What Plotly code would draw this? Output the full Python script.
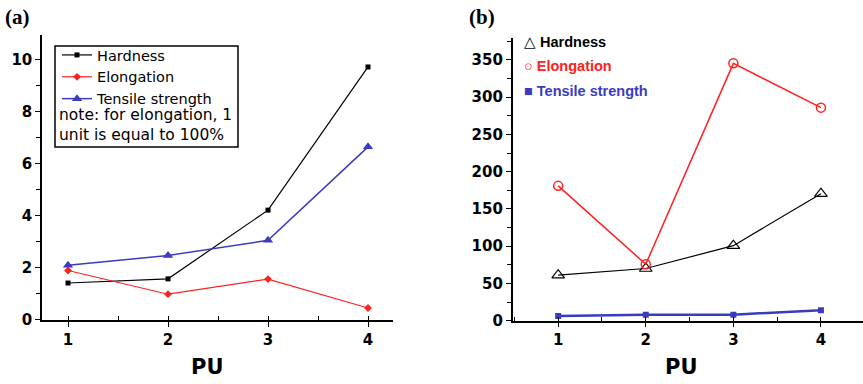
import plotly.graph_objects as go

pu = [1, 2, 3, 4]
pu_labels = ["1", "2", "3", "4"]
# Panel (a)
a_hardness = [1.42, 1.58, 4.22, 9.72]
a_elongation = [1.9, 0.99, 1.57, 0.46]
a_tensile = [2.1, 2.48, 3.06, 6.65]
a_yticks = [0, 2, 4, 6, 8, 10]
# Panel (b)
b_hardness = [61, 70, 100.7, 170.5]
b_elongation = [181, 75.7, 345.5, 286]
b_tensile = [6.3, 8, 8, 14]
b_yticks = [0, 50, 100, 150, 200, 250, 300, 350]

RED = "#ff2020"
BLUE = "#3b3bbf"
DJ = "DejaVu Sans, sans-serif"
AR = "Liberation Sans, Arial, sans-serif"

fig = go.Figure()

# Panel (a)
fig.add_trace(go.Scatter(x=pu, y=a_hardness, mode="lines+markers", name="Hardness",
                         line=dict(color="black", width=1.2),
                         marker=dict(symbol="square", size=5, color="black"),
                         xaxis="x", yaxis="y", legend="legend"))
fig.add_trace(go.Scatter(x=pu, y=a_elongation, mode="lines+markers", name="Elongation",
                         line=dict(color=RED, width=1.2),
                         marker=dict(symbol="diamond", size=6, color=RED),
                         xaxis="x", yaxis="y", legend="legend"))
fig.add_trace(go.Scatter(x=pu, y=a_tensile, mode="lines+markers", name="Tensile strength",
                         line=dict(color=BLUE, width=1.5),
                         marker=dict(symbol="triangle-up", size=9, color=BLUE),
                         xaxis="x", yaxis="y", legend="legend"))

# Panel (b)
fig.add_trace(go.Scatter(x=pu, y=b_hardness, mode="lines+markers", name="Hardness",
                         line=dict(color="black", width=1.2),
                         marker=dict(symbol="triangle-up-open", size=11, color="black",
                                     line=dict(width=1.2)),
                         xaxis="x2", yaxis="y2", showlegend=False))
fig.add_trace(go.Scatter(x=pu, y=b_elongation, mode="lines+markers", name="Elongation",
                         line=dict(color=RED, width=1.5),
                         marker=dict(symbol="circle-open", size=9, color=RED,
                                     line=dict(width=1.5)),
                         xaxis="x2", yaxis="y2", showlegend=False))
fig.add_trace(go.Scatter(x=pu, y=b_tensile, mode="lines+markers", name="Tensile strength",
                         line=dict(color=BLUE, width=2.5),
                         marker=dict(symbol="square", size=6, color=BLUE),
                         xaxis="x2", yaxis="y2", showlegend=False))

tickfont = dict(family=DJ, size=15, color="black", weight="bold")

def xax(domain, rng):
    return dict(domain=domain, range=rng, tickvals=pu, ticktext=pu_labels,
                showline=True, linecolor="black", linewidth=1.5, showgrid=False,
                zeroline=False, ticks="outside", ticklen=5, tickwidth=1.2, tickcolor="black",
                minor=dict(dtick=0.5, tick0=0.5, ticks="inside", ticklen=4, tickcolor="black",
                           tickwidth=1.2, showgrid=False),
                tickfont=tickfont, fixedrange=True)

def yax(domain, rng, ticks, minor):
    return dict(domain=domain, range=rng, tickvals=ticks,
                ticktext=["%g" % t for t in ticks],
                showline=True, linecolor="black", linewidth=1.5, showgrid=False,
                zeroline=False, ticks="outside", ticklen=5, tickwidth=1.2, tickcolor="black",
                minor=dict(dtick=minor, tick0=0, ticks="outside", ticklen=4, tickcolor="black",
                           tickwidth=1.2, showgrid=False),
                tickfont=tickfont, fixedrange=True)

xa = xax([0.0487, 0.4554], [0.74, 4.25]); xa["anchor"] = "y"
ya = yax([0.1667, 0.909], [0, 10.95], a_yticks, 1); ya["anchor"] = "x"
xb = xax([0.594, 1.0], [0.48, 4.48]); xb["anchor"] = "y2"
yb = yax([0.165, 0.901], [0, 379.5], b_yticks, 25); yb["anchor"] = "x2"

annotations = [
    dict(text="<b>(a)</b>", x=3, y=3, showarrow=False,
         xanchor="left", yanchor="top", font=dict(family="Liberation Serif, Times New Roman, serif", size=21, color="black")),
    dict(text="<b>(b)</b>", x=467, y=3, showarrow=False,
         xanchor="left", yanchor="top", font=dict(family="Liberation Serif, Times New Roman, serif", size=21, color="black")),
    dict(text="<b>PU</b>", x=207, y=367, showarrow=False, xanchor="center",
         font=dict(family=DJ, size=21, color="black")),
    dict(text="<b>PU</b>", x=681, y=367, showarrow=False, xanchor="center",
         font=dict(family=DJ, size=21, color="black")),
    dict(text="note: for elongation, 1<br>unit is equal to 100%", x=57, y=104, showarrow=False,
         xanchor="left", yanchor="top", align="left",
         font=dict(family=DJ, size=15.5, color="black")),
    dict(text="△ <b>Hardness</b>", x=522, y=42, showarrow=False, xanchor="left",
         font=dict(family=AR, size=14.5, color="black")),
    dict(text="○ <b>Elongation</b>", x=522, y=66, showarrow=False, xanchor="left",
         font=dict(family=AR, size=14.5, color=RED)),
    dict(text="■ <b>Tensile strength</b>", x=522, y=91, showarrow=False, xanchor="left",
         font=dict(family=AR, size=14.5, color=BLUE)),
]
W, H = 863, 384
for a in annotations:
    a["x"] = a["x"] / W
    a["y"] = 1 - a["y"] / H
    a["xref"] = "paper"; a["yref"] = "paper"
    a.setdefault("yanchor", "middle")

fig.update_layout(
    width=W, height=H, margin=dict(l=0, r=0, t=0, b=0, autoexpand=False),
    paper_bgcolor="white", plot_bgcolor="white",
    xaxis=xa, yaxis=ya, xaxis2=xb, yaxis2=yb,
    legend=dict(x=57 / W, y=1 - 39 / H, xanchor="left", yanchor="top",
                bgcolor="rgba(0,0,0,0)", borderwidth=0,
                font=dict(family=DJ, size=14.5, color="black"),
                itemwidth=30, tracegroupgap=0),
    annotations=annotations,
    shapes=[dict(type="rect", xref="paper", yref="paper",
                 x0=55 / W, x1=238 / W, y0=1 - 147 / H, y1=1 - 46 / H,
                 line=dict(color="black", width=1.5))],
    showlegend=True,
)

fig.write_html("out.html")
